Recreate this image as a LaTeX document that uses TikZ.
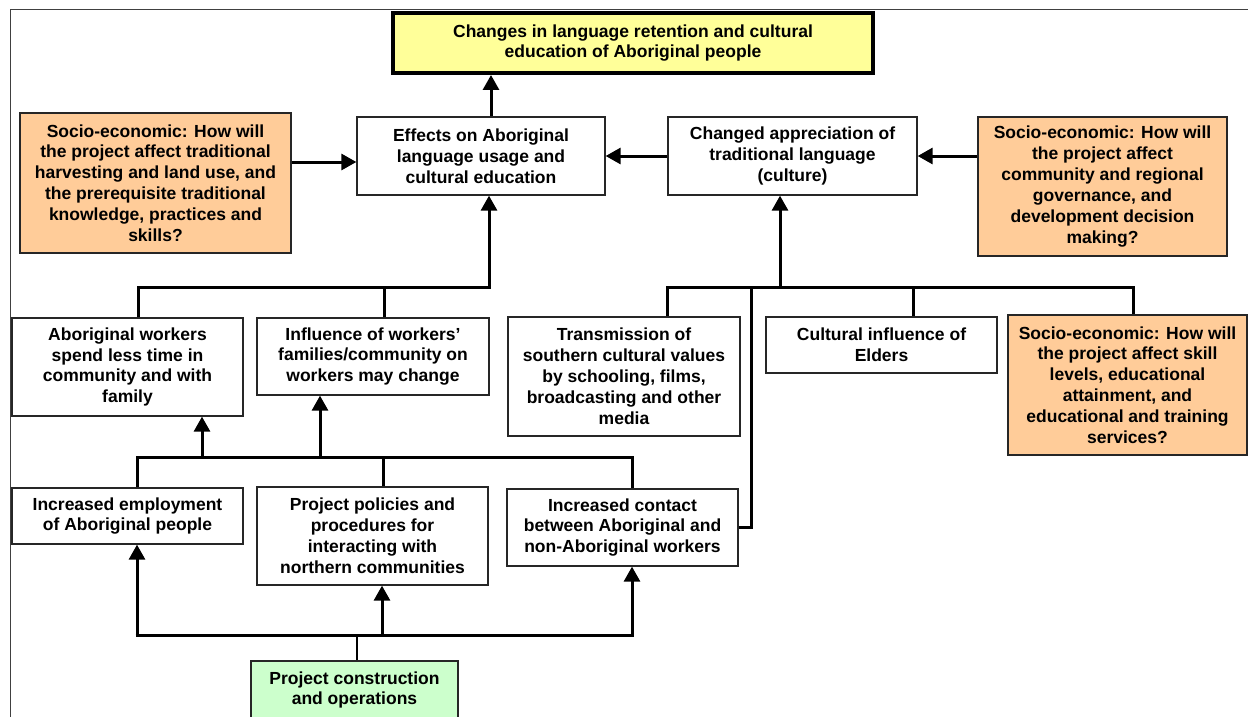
\documentclass[tikz,border=0pt]{standalone}
\usepackage{fontspec}
\setmainfont{Liberation Sans}
\usetikzlibrary{arrows.meta}
\definecolor{yel}{HTML}{FFFF99}
\definecolor{org}{HTML}{FFCC99}
\definecolor{grn}{HTML}{CCFFCC}
\begin{document}
\begin{tikzpicture}[x=1pt,y=-1pt,
  box/.style={draw=black!85,line width=1.3pt,fill=white,inner sep=0pt,align=center,
    font=\fontsize{17.5}{20.9}\selectfont\bfseries},
  obox/.style={box,fill=org},
  conn/.style={line width=3pt},
  arr/.style={line width=3pt,-{Triangle[width=16pt,length=15pt]}}]
\useasboundingbox (0,0) rectangle (1248,717);
\fill[white] (0,0) rectangle (1248,717);
\draw[line width=1pt,black!75] (10,717) -- (10,10) -- (1248,10);

\node[box,fill=yel,line width=4pt,draw=black,minimum width=480pt,minimum height=60pt] (top) at (633,43) {Changes in language retention and cultural\\education of Aboriginal people};
\node[box,minimum width=248pt,minimum height=78pt] (effects) at (481,156) {Effects on Aboriginal\\language usage and\\cultural education};
\node[box,minimum width=249pt,minimum height=78pt] (changed) at (792.5,156) {Changed appreciation of\\traditional language\\(culture)};
\node[obox,minimum width=271pt,minimum height=140pt] (lefto) at (155.5,183) {Socio-economic: How will\\the project affect traditional\\harvesting and land use, and\\the prerequisite traditional\\knowledge, practices and\\skills?};
\node[obox,minimum width=249pt,minimum height=139pt] (righto) at (1102.5,186.5) {Socio-economic: How will\\the project affect\\community and regional\\governance, and\\development decision\\making?};
\node[box,minimum width=231pt,minimum height=98pt] (abw) at (127.5,367) {Aboriginal workers\\spend less time in\\community and with\\family};
\node[box,minimum width=232pt,minimum height=77pt] (infl) at (373,356.5) {Influence of workers’\\families/community on\\workers may change};
\node[box,minimum width=232pt,minimum height=119pt] (trans) at (624,376.5) {Transmission of\\southern cultural values\\by schooling, films,\\broadcasting and other\\media};
\node[box,minimum width=231pt,minimum height=56pt] (elders) at (881.5,345) {Cultural influence of\\Elders};
\node[obox,minimum width=239pt,minimum height=140pt] (skill) at (1127.5,385) {Socio-economic: How will\\the project affect skill\\levels, educational\\attainment, and\\educational and training\\services?};
\node[box,minimum width=231pt,minimum height=56pt] (emp) at (127.5,516) {Increased employment\\of Aboriginal people};
\node[box,minimum width=231pt,minimum height=98pt] (pol) at (372.5,536) {Project policies and\\procedures for\\interacting with\\northern communities};
\node[box,minimum width=231pt,minimum height=77pt] (contact) at (622.5,527.5) {Increased contact\\between Aboriginal and\\non-Aboriginal workers};
\node[box,fill=grn,minimum width=207pt,minimum height=58pt] (green) at (354.5,690) {Project construction\\and operations};

% top links
\coordinate (eu) at (491,100);
\draw[arr] (effects.north -| eu) -- (top.south -| eu);
\draw[arr] (changed.west) -- (effects.east);
\draw[arr] (righto.west |- changed.west) -- (changed.east);
\coordinate (lae) at (330,162);
\draw[arr] (lefto.east |- lae) -- (effects.west |- lae);

% left upper tree
\coordinate (t1) at (138,287);
\coordinate (t2) at (489,287);
\coordinate (t3) at (384,287);
\draw[conn] (abw.north -| t1) -- (t1) -- ([xshift=1.5pt]t2);
\draw[conn] (infl.north -| t3) -- (t3);
\draw[arr] ([yshift=-1.5pt]t2) -- (effects.south -| t2);

% right upper tree
\coordinate (r1) at (667,287);
\coordinate (r2) at (1133,287);
\coordinate (rm) at (780,287);
\coordinate (re) at (913,287);
\coordinate (rc) at (751,287);
\draw[conn] (trans.north -| r1) -- (r1) -- (r2) -- (skill.north -| r2);
\draw[conn] (elders.north -| re) -- (re);
\draw[arr] (rm) -- (changed.south -| rm);
\draw[conn] (contact.east) -- (contact.east -| rc) -- (rc);

% middle tree
\coordinate (m1) at (137,457);
\coordinate (m2) at (632,457);
\coordinate (m3) at (383,457);
\coordinate (ma) at (202,457);
\coordinate (mb) at (320,457);
\draw[conn] (emp.north -| m1) -- (m1) -- (m2) -- (contact.north -| m2);
\draw[conn] (pol.north -| m3) -- (m3);
\draw[arr] (ma) -- (abw.south -| ma);
\draw[arr] (mb) -- (infl.south -| mb);

% bottom tree
\coordinate (b1) at (137,635);
\coordinate (b2) at (632,635);
\coordinate (b3) at (382,635);
\coordinate (bg) at (357,635);
\draw[conn] ([xshift=-1.5pt]b1) -- ([xshift=1.5pt]b2);
\draw[arr] (b1) -- (emp.south -| b1);
\draw[arr] (b3) -- (pol.south -| b3);
\draw[arr] (b2) -- (contact.south -| b2);
\draw[line width=2pt] (green.north -| bg) -- (bg);
\end{tikzpicture}
\end{document}
